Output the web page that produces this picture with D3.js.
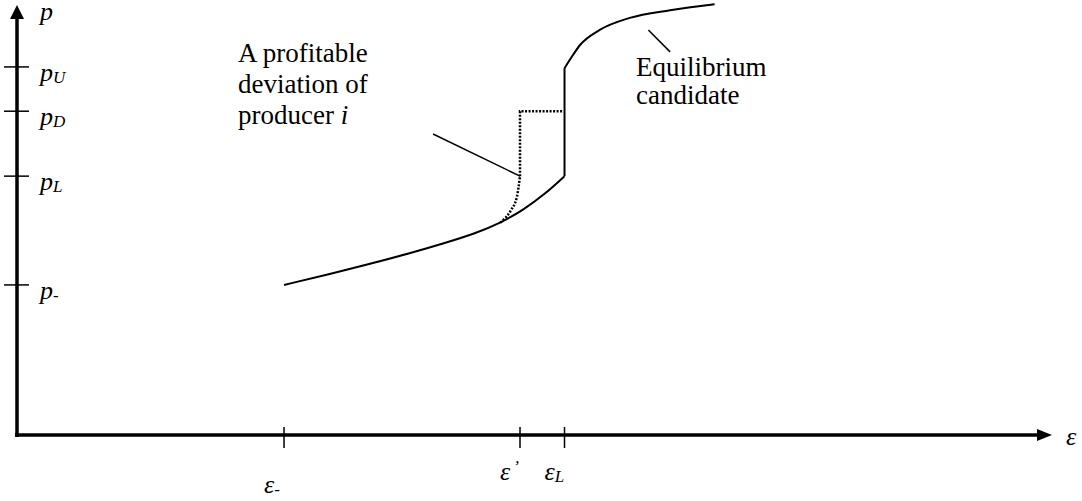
<!DOCTYPE html>
<html>
<head>
<meta charset="utf-8">
<script src="https://cdn.jsdelivr.net/npm/d3@7"></script>
<style>
  body { margin: 0; background: #fff; }
</style>
</head>
<body>
<div id="canvas"></div>
<script>
// ticks on the price axis (value, main symbol, subscript)
var pTicks = [
  {v: 34.9, sym: 'p', sub: '-'},
  {v: 60.2, sym: 'p', sub: 'L'},
  {v: 75.3, sym: 'p', sub: 'D'},
  {v: 85.6, sym: 'p', sub: 'U'}
];
// ticks on the epsilon axis
var eTicks = [
  {v: 25.8, sym: '\u03b5', sub: '-'},
  {v: 48.6, sym: '\u03b5', sub: '\u2019'},
  {v: 52.9, sym: '\u03b5', sub: 'L'}
];

// equilibrium candidate: lower branch, jump, upper branch
var lowerBranch = [[25.8,34.9],[30.2,37.4],[34.1,39.8],[38.0,42.3],[41.4,44.7],[44.3,46.9],[46.7,49.3],[48.9,52.3],[51.0,56.0],[52.9,60.2]];
var jump = [[52.9,60.2],[52.9,85.3]];
var upperBranch = [[52.9,85.3],[53.4,87.2],[54.4,90.7],[56.3,94.2],[59.2,97.0],[63.1,98.8],[67.4,100.2]];

// profitable deviation (dotted)
var devCurve = [[46.7,49.4],[47.7,52.2],[48.3,55.4],[48.6,60.2]];
var devStep = [[48.6,60.2],[48.6,75.3],[52.7,75.3]];

// leader lines for the notes
var leaderDev = [[40.2,70.0],[48.6,60.2]];
var leaderEq = [[61.0,94.2],[63.1,89.1]];

var W = 1082, H = 501;
var serif = '"Liberation Serif", Tinos, "Times New Roman", "Nimbus Roman", FreeSerif, "Noto Serif", "DejaVu Serif", Times, serif';
var svg = d3.select('#canvas').append('svg')
    .attr('width', W).attr('height', H)
    .style('font-family', serif);

var x = d3.scaleLinear().domain([0,100]).range([17,1052]);
var y = d3.scaleLinear().domain([0,100]).range([435,5]);

var line = d3.line().x(function(d){return x(d[0])}).y(function(d){return y(d[1])});
var smooth = d3.line().x(function(d){return x(d[0])}).y(function(d){return y(d[1])})
    .curve(d3.curveBasis);
var mono = d3.line().x(function(d){return x(d[0])}).y(function(d){return y(d[1])})
    .curve(d3.curveMonotoneX);

// axes
svg.append('line')
    .attr('x1', x(0)).attr('x2', x(0))
    .attr('y1', y(0) + 2).attr('y2', y(100) + 12)
    .style('stroke','#000').style('stroke-width',3.5);
svg.append('path')
    .attr('d', 'M' + (x(0)-7) + ',' + (y(100)+14) + 'L' + x(0) + ',' + y(100) + 'L' + (x(0)+7) + ',' + (y(100)+14) + 'Z')
    .style('fill','#000');
svg.append('line')
    .attr('x1', x(0) - 2).attr('x2', x(100) - 12)
    .attr('y1', y(0)).attr('y2', y(0))
    .style('stroke','#000').style('stroke-width',3.5);
svg.append('path')
    .attr('d', 'M' + (x(100)-15) + ',' + (y(0)-6) + 'L' + x(100) + ',' + y(0) + 'L' + (x(100)-15) + ',' + (y(0)+6) + 'Z')
    .style('fill','#000');

// y ticks + labels
var yt = svg.selectAll('.ytick').data(pTicks).enter().append('g')
    .attr('class','ytick')
    .attr('transform', function(d){return 'translate(0,' + y(d.v) + ')'});
yt.append('line').attr('x1', x(0)-13).attr('x2', x(0)+12)
    .style('stroke','#000').style('stroke-width',1.5);
var ytx = yt.append('text').attr('x', 40).attr('y', 14)
    .style('font-family', serif).style('font-size','26px');
ytx.append('tspan').style('font-style','italic').text(function(d){return d.sym});
ytx.append('tspan').attr('dy', 2).style('font-size','17px')
    .style('font-style', function(d){return d.sub === '-' ? 'normal' : 'italic'})
    .text(function(d){return d.sub});

svg.append('text').attr('x', 40).attr('y', 20)
    .style('font-family', serif)
    .style('font-size','26px').style('font-style','italic').text('p');

// x ticks + labels
var xt = svg.selectAll('.xtick').data(eTicks).enter().append('g')
    .attr('class','xtick')
    .attr('transform', function(d){return 'translate(' + x(d.v) + ',0)'});
xt.append('line').attr('y1', y(0)-8).attr('y2', y(0)+13)
    .style('stroke','#000').style('stroke-width',1.5);
var xtx = xt.append('text')
    .attr('x', -20)
    .attr('y', function(d){return d.sub === '-' ? y(0)+58 : y(0)+45})
    .style('font-family', serif)
    .style('font-size','26px');
xtx.append('tspan').style('font-style','italic').text(function(d){return d.sym});
xtx.append('tspan')
    .attr('dy', function(d){return d.sub === '\u2019' ? -8 : 2})
    .attr('dx', function(d){return d.sub === '\u2019' ? 3 : 0})
    .style('font-size','17px')
    .style('font-style', function(d){return d.sub === '-' ? 'normal' : 'italic'})
    .text(function(d){return d.sub});

svg.append('text').attr('x', x(100)+14).attr('y', y(0)+10)
    .style('font-family', serif)
    .style('font-size','26px').style('font-style','italic').text('\u03b5');

// curves
svg.append('path').datum(lowerBranch).attr('d', smooth)
    .style('fill','none').style('stroke','#000').style('stroke-width',2);
svg.append('path').datum(upperBranch).attr('d', mono)
    .style('fill','none').style('stroke','#000').style('stroke-width',2);
svg.append('path').datum(jump).attr('d', line)
    .style('fill','none').style('stroke','#000').style('stroke-width',2);

svg.append('path').datum(devCurve).attr('d', mono)
    .style('fill','none').style('stroke','#000').style('stroke-width',2.5)
    .style('stroke-dasharray','2,1.5');
svg.append('path').datum(devStep).attr('d', line)
    .style('fill','none').style('stroke','#000').style('stroke-width',2.5)
    .style('stroke-dasharray','2,1.5');

[leaderDev, leaderEq].forEach(function(pts){
  svg.append('path').datum(pts).attr('d', line)
      .style('fill','none').style('stroke','#000').style('stroke-width',1.5);
});

// notes
var note1 = svg.append('text').attr('x', 238).attr('y', 62)
    .style('font-family', serif).style('font-size','27px');
note1.append('tspan').attr('x',238).attr('dy',0).text('A profitable');
note1.append('tspan').attr('x',238).attr('dy',31).text('deviation of');
note1.append('tspan').attr('x',238).attr('dy',31).text('producer ');
note1.append('tspan').style('font-style','italic').text('i');

var note2 = svg.append('text').attr('x', 636).attr('y', 76)
    .style('font-family', serif).style('font-size','27px');
note2.append('tspan').attr('x',636).attr('dy',0).text('Equilibrium');
note2.append('tspan').attr('x',636).attr('dy',28).text('candidate');
</script>
</body>
</html>
